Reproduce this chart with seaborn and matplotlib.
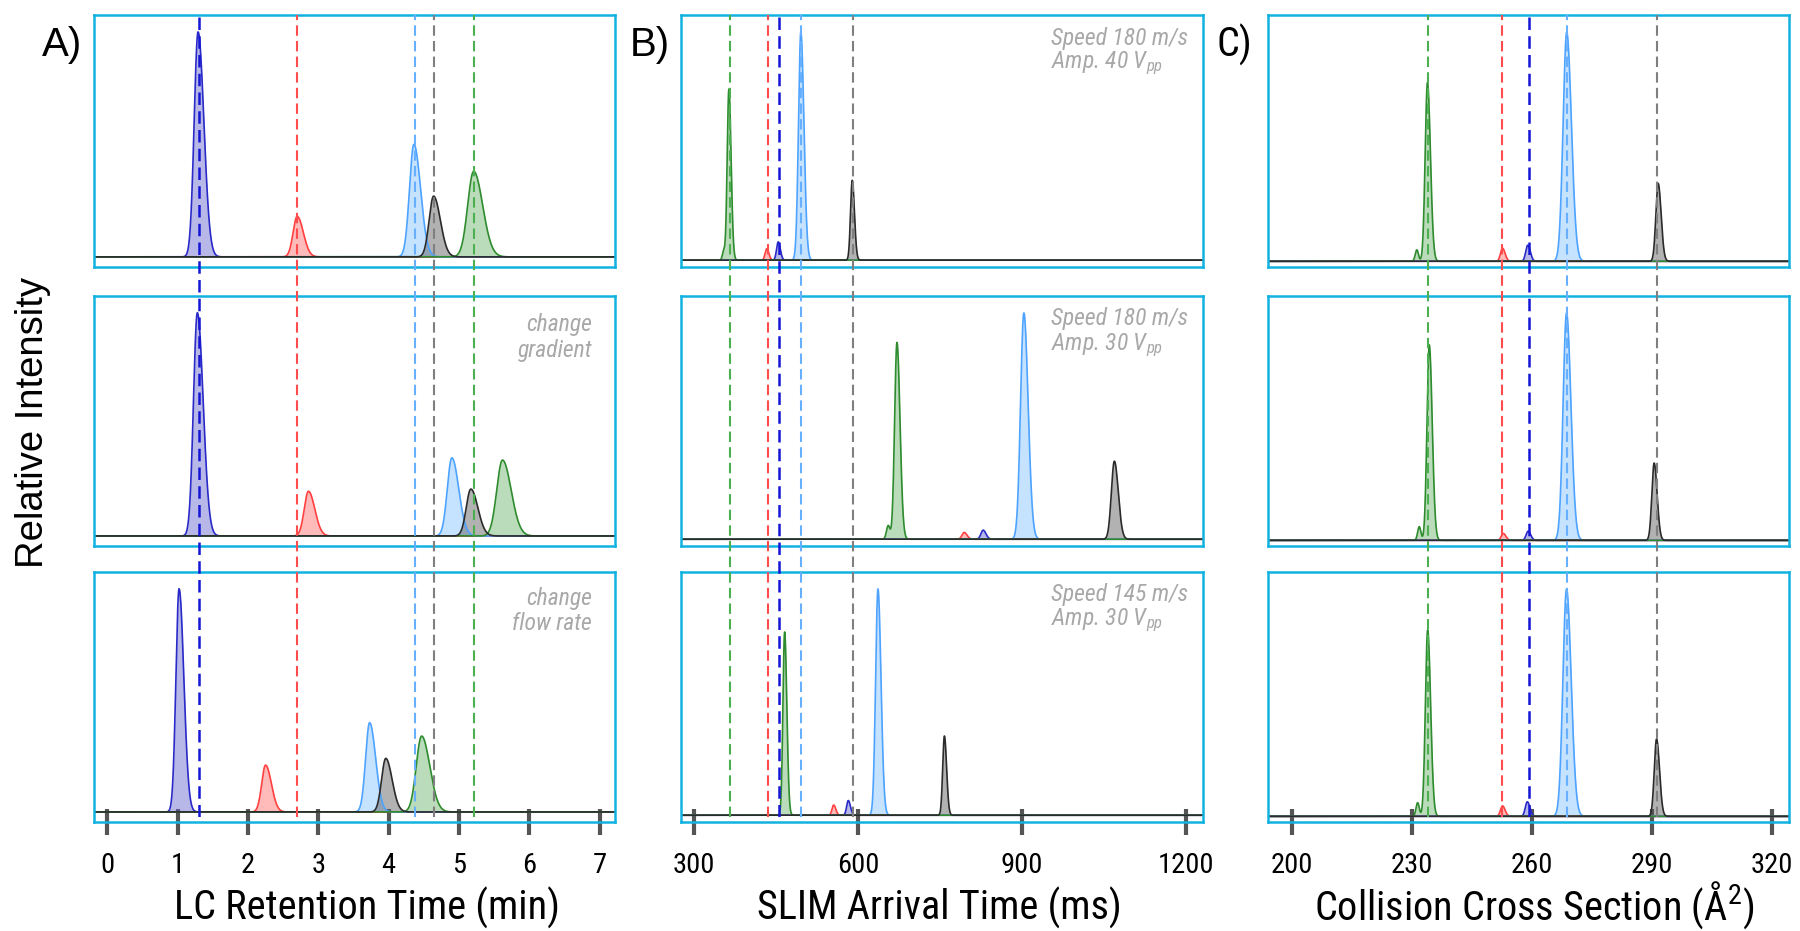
import numpy as np
import pandas as pd
import seaborn as sns
import matplotlib.pyplot as plt

sns.set_theme(style="white")
COND = ["Roboto Condensed", "DejaVu Sans"]
plt.rcParams["font.family"] = COND
plt.rcParams["mathtext.fontset"] = "custom"
plt.rcParams["mathtext.rm"] = "Roboto Condensed"
plt.rcParams["mathtext.it"] = "Roboto Condensed:italic"

# compounds, same order in every panel
compounds = ["blue", "red", "lightblue", "black", "green"]
draw_order = ["blue", "red", "lightblue", "green", "black"]
line_colors = {"blue": "#2a2ac8", "red": "#ff4040", "lightblue": "#4da3ff",
               "black": "#2b2b2b", "green": "#2e8b2e"}
fill_colors = {"blue": "#6262cc", "red": "#ff6666", "lightblue": "#80bfff",
               "black": "#555555", "green": "#66b266"}
dash_colors = {"blue": "#1515d5", "red": "#ff4d4d", "lightblue": "#66b0ff",
               "black": "#7f7f7f", "green": "#4caf50"}

# A) LC retention time (min); rows: reference / change gradient / change flow rate
lc_centers = [[1.29, 2.70, 4.36, 4.64, 5.21],
              [1.28, 2.86, 4.90, 5.17, 5.62],
              [1.02, 2.25, 3.73, 3.96, 4.47]]
lc_heights = [[1.0, 0.18, 0.50, 0.27, 0.38],
              [1.0, 0.20, 0.35, 0.21, 0.34],
              [1.0, 0.21, 0.40, 0.24, 0.34]]
lc_sigmas = [[0.055, 0.058, 0.063, 0.064, 0.085],
             [0.055, 0.060, 0.065, 0.066, 0.082],
             [0.045, 0.055, 0.057, 0.060, 0.077]]
lc_refs = [1.30, 2.70, 4.37, 4.64, 5.21]
lc_ticks = [0, 1, 2, 3, 4, 5, 6, 7]

# B) SLIM arrival time (ms); rows: 180 m/s 40 Vpp / 180 m/s 30 Vpp / 145 m/s 30 Vpp
slim_centers = [[454.0, 433.0, 495.5, 589.6, 363.7],
                [829.3, 794.6, 903.9, 1069.7, 671.5],
                [582.4, 555.6, 636.7, 758.4, 465.8]]
slim_heights = [[0.08, 0.05, 1.0, 0.35, 0.75],
                [0.04, 0.03, 1.0, 0.345, 0.87],
                [0.065, 0.045, 1.0, 0.35, 0.81]]
slim_sigmas = [[3.0, 3.0, 4.3, 3.1, 3.1],
               [4.0, 4.0, 6.0, 5.5, 4.3],
               [3.0, 3.0, 4.3, 3.1, 3.1]]
slim_shoulder_centers = [354.3, 655.5, 455.0]
slim_shoulder_heights = [0.04, 0.06, 0.0]
slim_refs = [455.0, 434.7, 495.5, 591.8, 365.0]
slim_ticks = [300, 600, 900, 1200]

# C) collision cross section (A^2)
ccs_centers = [[258.9, 252.6, 268.65, 291.5, 233.85],
               [259.0, 252.8, 268.6, 290.5, 234.3],
               [258.8, 252.6, 268.6, 291.1, 233.9]]
ccs_heights = [[0.07, 0.057, 1.0, 0.34, 0.78],
               [0.04, 0.03, 1.0, 0.34, 0.86],
               [0.064, 0.046, 1.0, 0.34, 0.82]]
ccs_sigmas = [[0.5, 0.5, 0.9, 0.57, 0.57],
              [0.5, 0.5, 0.85, 0.57, 0.57],
              [0.5, 0.5, 0.9, 0.57, 0.57]]
ccs_shoulder_centers = [231.2, 231.8, 231.4]
ccs_shoulder_heights = [0.05, 0.06, 0.06]
ccs_refs = [259.1, 252.6, 268.8, 291.1, 234.1]
ccs_ticks = [200, 230, 260, 290, 320]

xlabels = ["LC Retention Time (min)", "SLIM Arrival Time (ms)",
           "Collision Cross Section (Å$^{\\mathrm{2}}$)"]
panel_letters = ["A)", "B)", "C)"]
notes = {(0, 1): ["change", "gradient"], (0, 2): ["change", "flow rate"],
         (1, 0): ["Speed 180 m/s", "Amp. 40 V$_{pp}$"],
         (1, 1): ["Speed 180 m/s", "Amp. 30 V$_{pp}$"],
         (1, 2): ["Speed 145 m/s", "Amp. 30 V$_{pp}$"]}

columns = [
    dict(centers=lc_centers, heights=lc_heights, sigmas=lc_sigmas, refs=lc_refs,
         ticks=lc_ticks, xlim=(-0.19, 7.22), tail=1.5, ymin=-0.045,
         sh_c=None, sh_h=None),
    dict(centers=slim_centers, heights=slim_heights, sigmas=slim_sigmas, refs=slim_refs,
         ticks=slim_ticks, xlim=(276, 1232), tail=1.3, ymin=-0.03,
         sh_c=slim_shoulder_centers, sh_h=slim_shoulder_heights),
    dict(centers=ccs_centers, heights=ccs_heights, sigmas=ccs_sigmas, refs=ccs_refs,
         ticks=ccs_ticks, xlim=(194, 324.2), tail=1.3, ymin=-0.025,
         sh_c=ccs_shoulder_centers, sh_h=ccs_shoulder_heights),
]

W, H = 1800, 931
col_px = [(94, 615), (681, 1203), (1268, 1789)]
row_px = [(15, 267), (296, 546), (572, 822)]


def frac_box(x0, y0, x1, y1):
    return [x0 / W, 1 - y1 / H, (x1 - x0) / W, (y1 - y0) / H]


def peak(x, c, h, s, tail):
    s_eff = np.where(x < c, s, s * tail)
    return h * np.exp(-0.5 * ((x - c) / s_eff) ** 2)


fig = plt.figure(figsize=(18, 9.31), dpi=100)
note_style = dict(style="italic", color="#a8a8a8", fontsize=17, va="center")

for ci, col in enumerate(columns):
    x0, x1 = col_px[ci]
    xs = np.linspace(col["xlim"][0], col["xlim"][1], 4000)
    for ri in range(3):
        y0, y1 = row_px[ri]
        ax = fig.add_axes(frac_box(x0, y0, x1, y1))
        rows = []
        for name in draw_order:
            k = compounds.index(name)
            y = peak(xs, col["centers"][ri][k], col["heights"][ri][k],
                     col["sigmas"][ri][k], col["tail"])
            if name == "green" and col["sh_c"] is not None:
                y = y + peak(xs, col["sh_c"][ri], col["sh_h"][ri],
                             col["sigmas"][ri][0] * 0.8, 1.0)
            ax.fill_between(xs, 0, y, color=fill_colors[name], alpha=0.45, lw=0)
            rows.append(pd.DataFrame({"x": xs, "y": y, "compound": name}))
        df = pd.concat(rows, ignore_index=True)
        sns.lineplot(data=df, x="x", y="y", hue="compound", hue_order=draw_order,
                     palette=line_colors, legend=False, estimator=None,
                     linewidth=1.2, ax=ax)
        ax.set_xlim(*col["xlim"])
        ax.set_ylim(col["ymin"], 1.075)
        ax.set_yticks([])
        ax.set_xlabel("")
        ax.set_ylabel("")
        for sp in ax.spines.values():
            sp.set_visible(True)
            sp.set_color("#12b2e0")
            sp.set_linewidth(1.8)
        if ri == 2:
            ax.set_xticks(col["ticks"])
            ax.set_xticklabels([str(t) for t in col["ticks"]])
            ax.tick_params(axis="x", bottom=True, direction="inout", length=19,
                           width=3, color="#555555", labelsize=20.5, pad=12,
                           labelcolor="black")
        else:
            ax.set_xticks([])

    # dashed reference lines running through all three rows
    over = fig.add_axes(frac_box(x0, row_px[0][0], x1, 817))
    over.set_xlim(*col["xlim"])
    over.set_ylim(0, 1)
    over.patch.set_visible(False)
    over.axis("off")
    for k, name in enumerate(compounds):
        over.axvline(col["refs"][k], 0, 1, color=dash_colors[name],
                     lw=1.8 if name == "blue" else 1.5, linestyle=(0, (5, 2.5)))

    fig.text(((x0 + x1) / 2 + [13, -3, 6][ci]) / W, 1 - 920 / H, xlabels[ci],
             ha="center", va="baseline", fontsize=29, color="black")
    fig.text([62, 650, 1234][ci] / W, 1 - 45 / H, panel_letters[ci],
             ha="center", va="center", fontsize=29, color="black",
             family=["Liberation Sans", "DejaVu Sans"] if ci < 2 else COND)

# annotations (pixel positions of each line)
for (ci, ri), lines in notes.items():
    if ci == 0:
        ys = [[325, 350], [599, 624]][ri - 1]
        for txt, yy in zip(lines, ys):
            fig.text(592 / W, 1 - yy / H, txt, ha="right", **note_style)
    else:
        ys = [[38, 63], [319, 345], [594, 620]][ri]
        for txt, yy in zip(lines, ys):
            fig.text(1051 / W, 1 - yy / H, txt, ha="left", **note_style)

fig.text(33 / W, 1 - 422 / H, "Relative Intensity", rotation=90, ha="center",
         va="center", fontsize=27.5, color="black",
         family=["Liberation Sans", "DejaVu Sans"])

fig.savefig("out.png", dpi=100, facecolor="white")
